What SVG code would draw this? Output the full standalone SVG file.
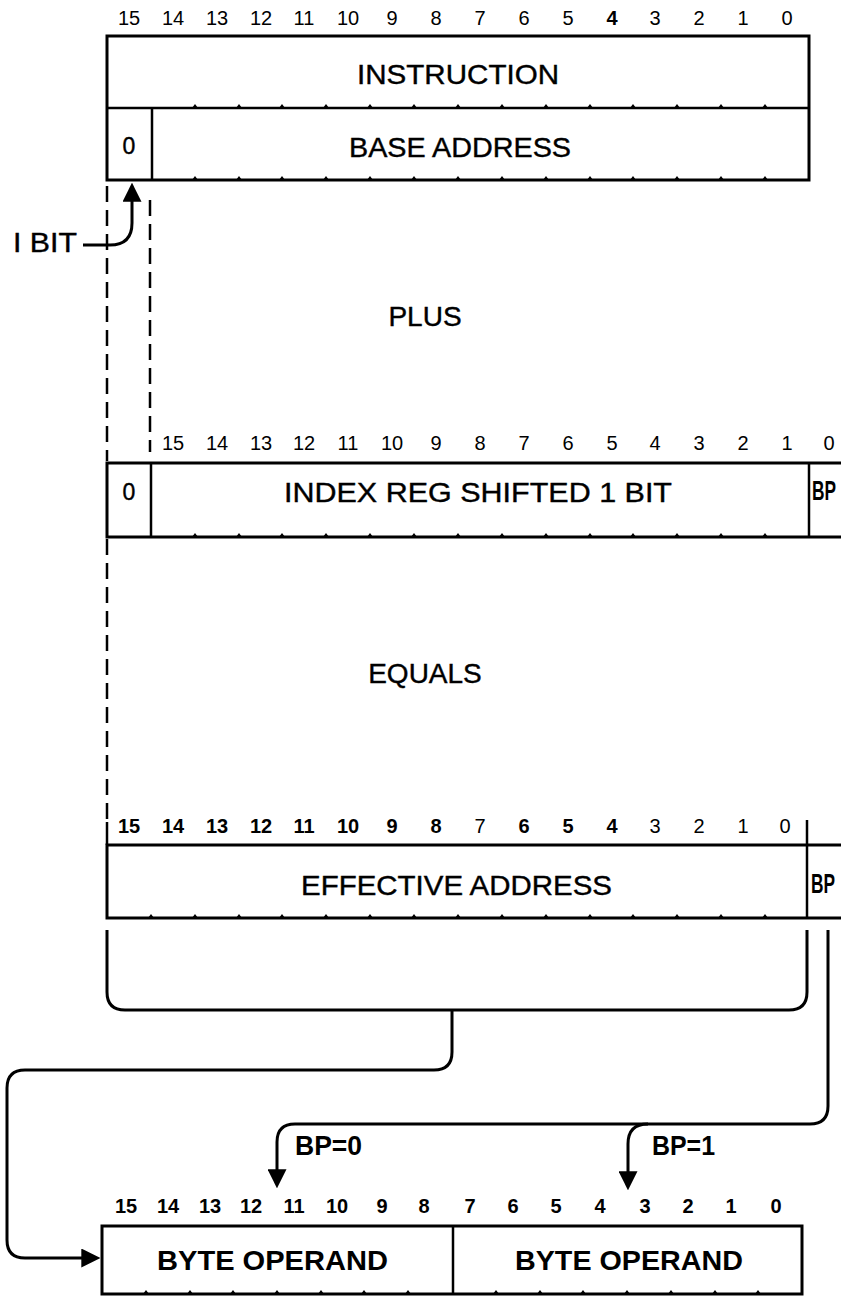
<svg xmlns="http://www.w3.org/2000/svg" xmlns:xlink="http://www.w3.org/1999/xlink" width="841" height="1296" viewBox="0 0 841 1296">
<style>
.bx{fill:none;stroke:#000;stroke-width:3;stroke-linejoin:miter}
.dv{fill:none;stroke:#000;stroke-width:2.5}
.cn{fill:none;stroke:#000;stroke-width:3;stroke-linejoin:round}
.ds{fill:none;stroke:#000;stroke-width:2.5;stroke-dasharray:16 8}
.lb{font-family:"Liberation Sans",Arial,sans-serif;font-size:28px;fill:#000;stroke:#000;stroke-width:0.4}
.lbb{font-family:"Liberation Sans",Arial,sans-serif;font-size:28px;font-weight:bold;fill:#000}
.zr{font-family:"Liberation Sans",Arial,sans-serif;font-size:23px;fill:#000;text-anchor:middle;stroke:#000;stroke-width:0.4}
.nm{font-family:"Liberation Sans",Arial,sans-serif;font-size:20px;fill:#000;text-anchor:middle}
.nb{font-family:"Liberation Sans",Arial,sans-serif;font-size:20px;font-weight:bold;fill:#000;text-anchor:middle}
.c{text-anchor:middle}
</style>
<defs>
<path id="tk" d="M-3,0 L0,-4 L3,0 Z" fill="#000"/>
<marker id="ah" viewBox="0 0 18 18" refX="12" refY="9" markerWidth="19" markerHeight="19" markerUnits="userSpaceOnUse" orient="auto">
<path d="M0,0 L18,9 L0,18 Z" fill="#000"/>
</marker>
</defs>
<rect width="841" height="1296" fill="#fff"/>

<g id="instruction-register">
<g class="nm">
<text x="129" y="25">15</text><text x="173" y="25">14</text><text x="217" y="25">13</text><text x="261" y="25">12</text>
<text x="304" y="25">11</text><text x="348" y="25">10</text><text x="392" y="25">9</text><text x="436" y="25">8</text>
<text x="480" y="25">7</text><text x="524" y="25">6</text><text x="568" y="25">5</text><text x="612" y="25" font-weight="bold">4</text>
<text x="655" y="25">3</text><text x="699" y="25">2</text><text x="743" y="25">1</text><text x="787" y="25">0</text>
</g>
<rect class="bx" x="107" y="36" width="702" height="144"/>
<line class="dv" x1="107" y1="108" x2="809" y2="108"/>
<line class="dv" x1="152" y1="108" x2="152" y2="180"/>
<g>
<use xlink:href="#tk" x="195" y="108"/><use xlink:href="#tk" x="239" y="108"/><use xlink:href="#tk" x="282" y="108"/><use xlink:href="#tk" x="326" y="108"/><use xlink:href="#tk" x="370" y="108"/><use xlink:href="#tk" x="414" y="108"/><use xlink:href="#tk" x="458" y="108"/><use xlink:href="#tk" x="502" y="108"/><use xlink:href="#tk" x="546" y="108"/><use xlink:href="#tk" x="590" y="108"/><use xlink:href="#tk" x="633" y="108"/><use xlink:href="#tk" x="677" y="108"/><use xlink:href="#tk" x="721" y="108"/><use xlink:href="#tk" x="765" y="108"/>
<use xlink:href="#tk" x="195" y="180"/><use xlink:href="#tk" x="239" y="180"/><use xlink:href="#tk" x="282" y="180"/><use xlink:href="#tk" x="326" y="180"/><use xlink:href="#tk" x="370" y="180"/><use xlink:href="#tk" x="414" y="180"/><use xlink:href="#tk" x="458" y="180"/><use xlink:href="#tk" x="502" y="180"/><use xlink:href="#tk" x="546" y="180"/><use xlink:href="#tk" x="590" y="180"/><use xlink:href="#tk" x="633" y="180"/><use xlink:href="#tk" x="677" y="180"/><use xlink:href="#tk" x="721" y="180"/><use xlink:href="#tk" x="765" y="180"/>
</g>
<text class="lb c" x="458" y="84" textLength="202" lengthAdjust="spacingAndGlyphs">INSTRUCTION</text>
<text class="zr" x="129" y="154">0</text>
<text class="lb c" x="460" y="157" textLength="222" lengthAdjust="spacingAndGlyphs">BASE ADDRESS</text>
</g>

<g id="labels">
<text class="lb" x="13" y="252" textLength="64" lengthAdjust="spacingAndGlyphs">I BIT</text>
<text class="lb c" x="425" y="326">PLUS</text>
<text class="lb c" x="425" y="683">EQUALS</text>
</g>

<g id="index-register">
<g class="nm">
<text x="173" y="450">15</text><text x="217" y="450">14</text><text x="261" y="450">13</text><text x="304" y="450">12</text>
<text x="348" y="450">11</text><text x="392" y="450">10</text><text x="436" y="450">9</text><text x="480" y="450">8</text>
<text x="524" y="450">7</text><text x="568" y="450">6</text><text x="612" y="450">5</text><text x="655" y="450">4</text>
<text x="699" y="450">3</text><text x="743" y="450">2</text><text x="787" y="450">1</text><text x="829" y="450">0</text>
</g>
<path class="bx" d="M841,463 H107 V537 H841"/>
<line class="dv" x1="151" y1="463" x2="151" y2="537"/>
<line class="dv" x1="809" y1="463" x2="809" y2="537"/>
<g>
<use xlink:href="#tk" x="195" y="537"/><use xlink:href="#tk" x="239" y="537"/><use xlink:href="#tk" x="282" y="537"/><use xlink:href="#tk" x="326" y="537"/><use xlink:href="#tk" x="370" y="537"/><use xlink:href="#tk" x="414" y="537"/><use xlink:href="#tk" x="458" y="537"/><use xlink:href="#tk" x="502" y="537"/><use xlink:href="#tk" x="546" y="537"/><use xlink:href="#tk" x="590" y="537"/><use xlink:href="#tk" x="633" y="537"/><use xlink:href="#tk" x="677" y="537"/><use xlink:href="#tk" x="721" y="537"/><use xlink:href="#tk" x="765" y="537"/>
</g>
<text class="zr" x="129" y="500">0</text>
<text class="lb" x="284" y="502" textLength="388" lengthAdjust="spacingAndGlyphs">INDEX REG SHIFTED 1 BIT</text>
<text class="lbb" x="812" y="500" font-size="22" textLength="24" lengthAdjust="spacingAndGlyphs">BP</text>
</g>

<g id="effective-address">
<g class="nb">
<text x="129" y="833">15</text><text x="173" y="833">14</text><text x="217" y="833">13</text><text x="261" y="833">12</text>
<text x="304" y="833">11</text><text x="348" y="833">10</text><text x="392" y="833">9</text><text x="436" y="833">8</text>
<text x="480" y="833" font-weight="normal">7</text><text x="524" y="833">6</text><text x="568" y="833">5</text><text x="612" y="833">4</text>
<text x="655" y="833" font-weight="normal">3</text><text x="699" y="833" font-weight="normal">2</text><text x="743" y="833" font-weight="normal">1</text><text x="785" y="833" font-weight="normal">0</text>
</g>
<path class="bx" d="M841,845 H107 V918 H841"/>
<line class="dv" x1="807" y1="820" x2="807" y2="918"/>
<g>
<use xlink:href="#tk" x="151" y="918"/><use xlink:href="#tk" x="195" y="918"/><use xlink:href="#tk" x="239" y="918"/><use xlink:href="#tk" x="282" y="918"/><use xlink:href="#tk" x="326" y="918"/><use xlink:href="#tk" x="370" y="918"/><use xlink:href="#tk" x="414" y="918"/><use xlink:href="#tk" x="458" y="918"/><use xlink:href="#tk" x="502" y="918"/><use xlink:href="#tk" x="546" y="918"/><use xlink:href="#tk" x="590" y="918"/><use xlink:href="#tk" x="633" y="918"/><use xlink:href="#tk" x="677" y="918"/><use xlink:href="#tk" x="721" y="918"/><use xlink:href="#tk" x="765" y="918"/>
</g>
<text class="lb" x="301" y="895" textLength="311" lengthAdjust="spacingAndGlyphs" stroke-width="0.9">EFFECTIVE ADDRESS</text>
<text class="lbb" x="811" y="893" font-size="22" textLength="24" lengthAdjust="spacingAndGlyphs">BP</text>
</g>

<g id="byte-operands">
<g class="nb">
<text x="126" y="1213">15</text><text x="168" y="1213">14</text><text x="210" y="1213">13</text><text x="251" y="1213">12</text>
<text x="294" y="1213">11</text><text x="337" y="1213">10</text><text x="382" y="1213">9</text><text x="424" y="1213">8</text>
<text x="470" y="1213">7</text><text x="513" y="1213">6</text><text x="556" y="1213">5</text><text x="600" y="1213">4</text>
<text x="645" y="1213">3</text><text x="688" y="1213">2</text><text x="731" y="1213">1</text><text x="776" y="1213">0</text>
</g>
<rect class="bx" x="102" y="1226" width="700" height="68"/>
<line class="dv" x1="453" y1="1226" x2="453" y2="1294"/>
<g>
<use xlink:href="#tk" x="146" y="1294"/><use xlink:href="#tk" x="190" y="1294"/><use xlink:href="#tk" x="233" y="1294"/><use xlink:href="#tk" x="277" y="1294"/><use xlink:href="#tk" x="321" y="1294"/><use xlink:href="#tk" x="364" y="1294"/><use xlink:href="#tk" x="408" y="1294"/><use xlink:href="#tk" x="496" y="1294"/><use xlink:href="#tk" x="540" y="1294"/><use xlink:href="#tk" x="583" y="1294"/><use xlink:href="#tk" x="627" y="1294"/><use xlink:href="#tk" x="671" y="1294"/><use xlink:href="#tk" x="715" y="1294"/><use xlink:href="#tk" x="758" y="1294"/>
</g>
<text class="lbb" x="157" y="1270" textLength="231" lengthAdjust="spacingAndGlyphs">BYTE OPERAND</text>
<text class="lbb" x="515" y="1270" textLength="228" lengthAdjust="spacingAndGlyphs">BYTE OPERAND</text>
</g>

<g id="connectors">
<path class="ds" d="M107,186 V461"/>
<path class="ds" d="M107,539 V819"/>
<path class="dv" d="M107,822 V845"/>
<path class="ds" d="M150,200 V452"/>
<path class="cn" d="M83,245 H110 Q132,245 132,223 V189" marker-end="url(#ah)"/>
<path class="cn" d="M107,930 V992 Q107,1010 125,1010 H789 Q807,1010 807,992 V930"/>
<path class="cn" d="M452,1010 V1052 Q452,1070 434,1070 H25 Q7,1070 7,1088 V1240 Q7,1258 25,1258 H94" marker-end="url(#ah)"/>
<path class="cn" d="M828,930 V1106 Q828,1124 810,1124 H295 Q277,1124 277,1142 V1182" marker-end="url(#ah)"/>
<path class="cn" d="M648,1124 Q628,1124 628,1144 V1184" marker-end="url(#ah)"/>
<text class="lbb" x="295" y="1155" font-size="25" textLength="67" lengthAdjust="spacingAndGlyphs">BP=0</text>
<text class="lbb" x="652" y="1155" font-size="25" textLength="63" lengthAdjust="spacingAndGlyphs">BP=1</text>
</g>
</svg>
